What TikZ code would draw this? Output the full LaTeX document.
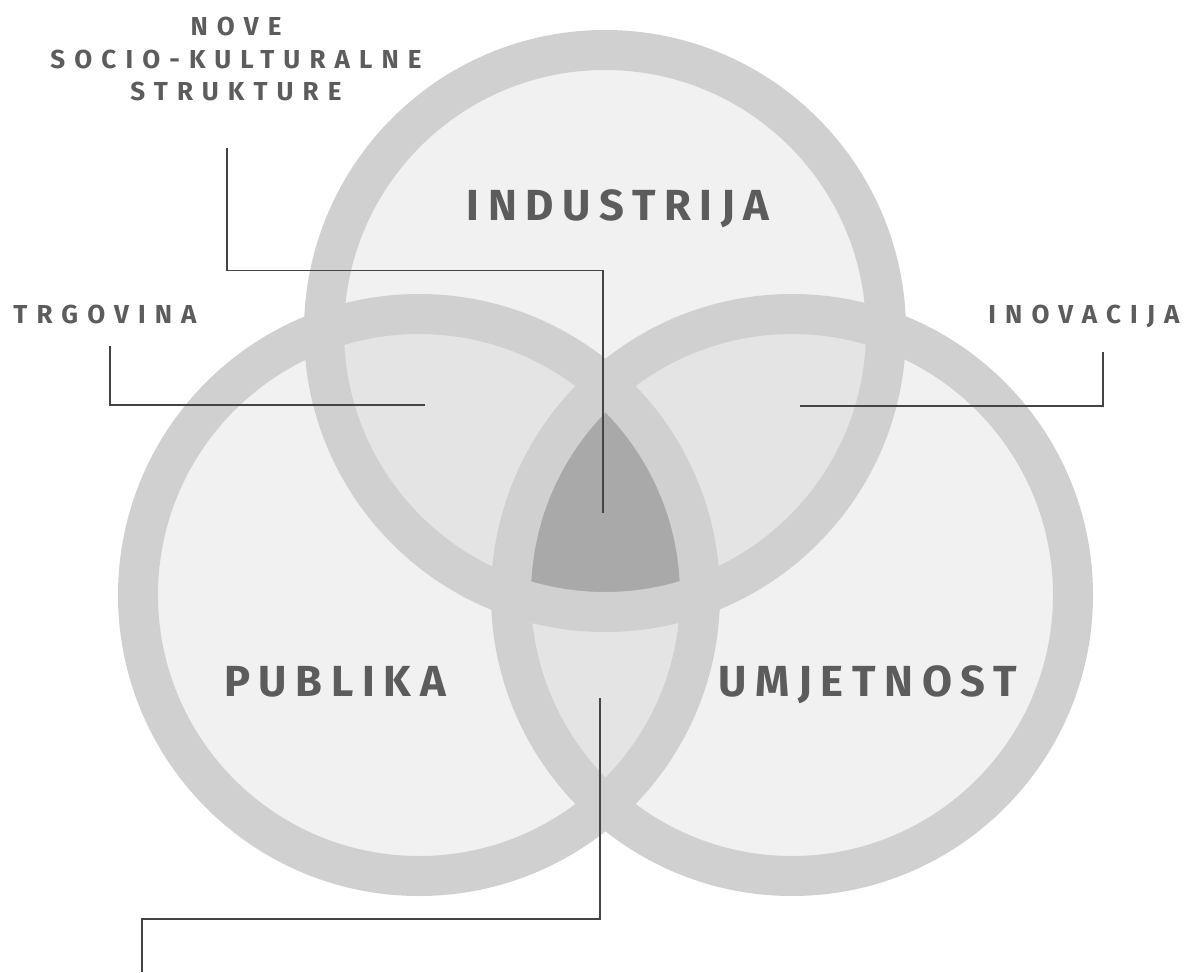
\documentclass[tikz,border=0pt]{standalone}
\usepackage{fontspec}
\setmainfont{Fira Sans}
\newfontfamily\wideface[LetterSpace=20]{Fira Sans}
\newfontfamily\smallface[LetterSpace=35]{Fira Sans}
\definecolor{ringgray}{HTML}{D0D0D0}
\definecolor{fillone}{HTML}{F1F1F1}
\definecolor{filltwo}{HTML}{E4E4E4}
\definecolor{fillthree}{HTML}{A9A9A9}
\definecolor{textgray}{HTML}{5C5C5C}
\definecolor{linegray}{HTML}{444444}
\tikzset{
    ring/.style={draw=ringgray, line width=40pt},
    leader/.style={draw=linegray, line width=1.3pt},
    biglabel/.style={text=textgray, inner sep=0pt, anchor=base,
        font=\wideface\bfseries\fontsize{43.5}{50}\selectfont},
    smalllabel/.style={text=textgray, inner sep=0pt, anchor=base,
        font=\smallface\bfseries\fontsize{26}{32.5}\selectfont},
}
\begin{document}
\begin{tikzpicture}[x=1pt,y=-1pt]
        \useasboundingbox (0,0) rectangle (1196,972);
        % circle centres
        \coordinate (ind) at (605,331);
        \coordinate (pub) at (419,595);
        \coordinate (umj) at (792,595);
        \fill[fillone] (ind) circle (281pt) (pub) circle (281pt) (umj) circle (281pt);
        \foreach \a/\b in {ind/pub,ind/umj,pub/umj}
        {
            \begin{scope}
                \clip (\a) circle (281pt);
                \fill[filltwo] (\b) circle (281pt);
            \end{scope}
        }
        \begin{scope}
            \clip (ind) circle (281pt);
            \clip (pub) circle (281pt);
            \fill[fillthree] (umj) circle (281pt);
        \end{scope}
        \foreach \c in {ind,pub,umj}
            \draw[ring] (\c) circle (281pt);
        % labels
        \node[biglabel] (industrija) at (618,220) {INDUSTRIJA};
        \node[biglabel] (publika) at (335,696) {PUBLIKA};
        \node[biglabel] (umjetnost) at (868,696) {UMJETNOST};
        \node[smalllabel] (trgovina) at (105,323) {TRGOVINA};
        \node[smalllabel] (inovacija) at (1084,323) {INOVACIJA};
        \node[smalllabel, align=center, anchor=north] (nove) at (236,17) {NOVE\\SOCIO-KULTURALNE\\STRUKTURE};
        % leaders
        \coordinate (noveEnd) at (603,513);
        \coordinate (trgEnd) at (425,405);
        \coordinate (inoEnd) at (800,406);
        \coordinate (pairTop) at (600,698);
        \coordinate (pairEnd) at (142,972);
        \draw[leader] ([shift={(-9,47)}]nove.south) -- ++(0,122) -| (noveEnd);
        \draw[leader] ([shift={(5,22)}]trgovina.south) |- (trgEnd);
        \draw[leader] ([shift={(19,24)}]inovacija.south) |- (inoEnd);
        \draw[leader] (pairTop) -- ++(0,221) -| (pairEnd);
\end{tikzpicture}
\end{document}
